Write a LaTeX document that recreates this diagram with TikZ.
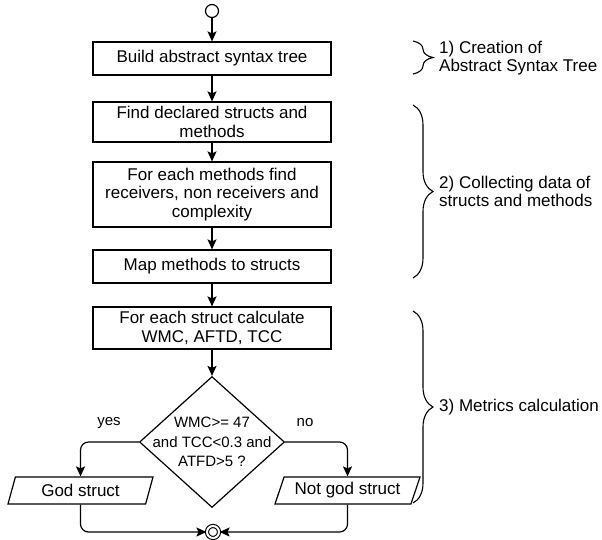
\documentclass[tikz,border=0pt]{standalone}
\usepackage{fontspec}
\setmainfont{Liberation Sans}
\usetikzlibrary{shapes.geometric,arrows.meta,decorations.pathreplacing}

\begin{document}
\begin{tikzpicture}[x=1pt,y=-1pt]
	\tikzstyle{every node}=[inner sep=1pt,font=\fontsize{17}{18.5}\selectfont]
	\tikzstyle{stepbox}=[rectangle,draw,line width=1.2pt,minimum width=238pt,align=center]
	\tikzstyle{iobox}=[trapezium,draw,line width=1.2pt,trapezium left angle=63,trapezium right angle=117,trapezium stretches body,minimum width=145pt,minimum height=27pt]
	\tikzstyle{flow}=[-{Stealth[length=10pt,width=9pt,inset=2pt]},line width=1.2pt,rounded corners=8pt]
	\tikzstyle{phase}=[decorate,decoration={brace,amplitude=20pt},line width=1.1pt]
	\tikzstyle{phaselabel}=[anchor=west,align=left,font=\fontsize{17}{17.5}\selectfont]
	\tikzstyle{smalltext}=[font=\fontsize{15}{19.5}\selectfont]
	\useasboundingbox (0,0) rectangle (602,539);
	% steps
	\node[circle,draw,line width=1.2pt,minimum size=13pt,inner sep=0pt] (start) at (212,11) {};
	\node[stepbox,minimum height=33pt] (ast) at (212,58.5) {Build abstract syntax tree};
	\node[stepbox,minimum height=40pt] (decl) at (212,122) {Find declared structs and\\methods};
	\node[stepbox,minimum height=65pt] (recv) at (212,194.5) {For each methods find\\receivers, non receivers and\\complexity};
	\node[stepbox,minimum height=33pt] (map) at (212,266.5) {Map methods to structs};
	\node[stepbox,minimum height=42pt] (calc) at (212,328) {For each struct calculate\\WMC, AFTD, TCC};
	% decision
	\node[diamond,draw,line width=1.2pt,minimum width=145pt,minimum height=131pt,inner sep=0pt] (check) at (212,442) {};
	\node[smalltext,align=center] (checktext) at (check.center) {WMC>= 47\\and TCC<0.3 and\\ATFD>5 ?};
	\node[iobox] (god) at (80.5,490.5) {God struct};
	\node[iobox] (notgod) at (347.5,490.5) {Not god struct};
	\node[circle,draw,line width=1.1pt,double,double distance=2pt,minimum size=12pt,inner sep=0pt] (stop) at (213,532) {};
	\node[smalltext] (yes) at (109,423) {yes};
	\node[smalltext] (no) at (305,423) {no};
	% arrows
	\draw[flow] (start) -- (ast);
	\draw[flow] (ast) -- (decl);
	\draw[flow] (decl) -- (recv);
	\draw[flow] (recv) -- (map);
	\draw[flow] (map) -- (calc);
	\draw[flow] (calc) -- (check);
	\draw[flow] (check.west) -| (god.north);
	\draw[flow] (check.east) -| (notgod.north);
	\draw[flow] (god.south) |- (stop.west);
	\draw[flow] (notgod.south) |- (stop.east);
	% phases
	\coordinate (p1a) at (413,41);
	\coordinate (p1b) at (413,74);
	\coordinate (p2a) at (413,105);
	\coordinate (p2b) at (413,278);
	\coordinate (p3a) at (413,311);
	\coordinate (p3b) at (413,503);
	\draw[phase] (p1a) -- (p1b);
	\draw[phase] (p2a) -- (p2b);
	\draw[phase] (p3a) -- (p3b);
	\node[phaselabel] (phase1) at (438,58) {1) Creation of\\Abstract Syntax Tree};
	\node[phaselabel] (phase2) at (438,191.5) {2) Collecting data of\\structs and methods};
	\node[phaselabel] (phase3) at (438,407) {3) Metrics calculation};
\end{tikzpicture}
\end{document}
